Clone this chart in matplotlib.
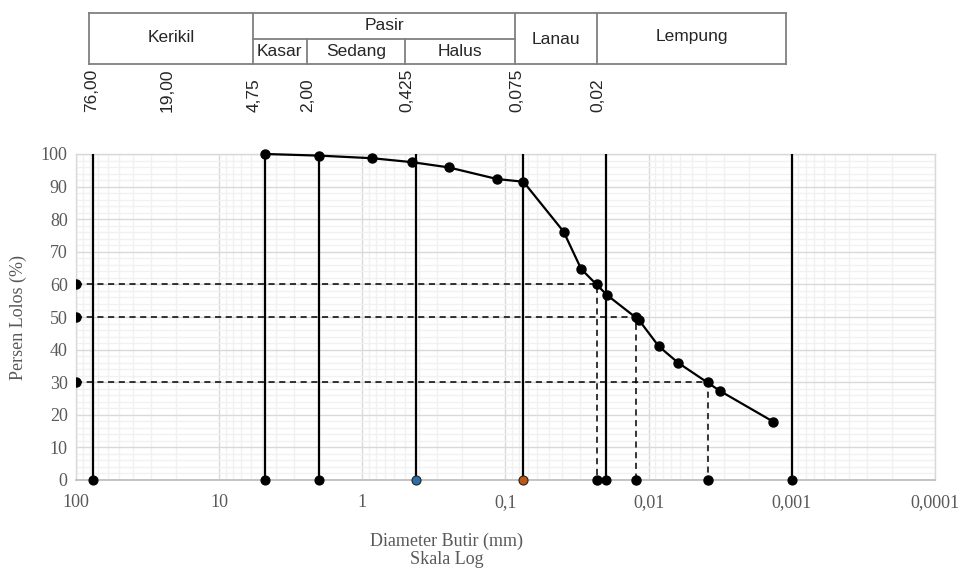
import matplotlib
matplotlib.use("Agg")
import matplotlib.pyplot as plt
from matplotlib.lines import Line2D
from matplotlib.ticker import FixedLocator, NullFormatter, FixedFormatter

# ---------------- data ----------------
grain_size = [4.75, 2.00, 0.85, 0.45, 0.25, 0.114, 0.075, 0.0393, 0.0296,
              0.0195, 0.0117, 0.0085, 0.0062, 0.00317, 0.00135]
percent_passing = [100, 99.5, 98.7, 97.5, 95.9, 92.3, 91.5, 76.2, 64.7,
                   56.7, 49.1, 41.0, 35.9, 27.3, 17.9]

boundary_sizes = [76.0, 4.75, 2.00, 0.425, 0.075, 0.02, 0.001]
boundary_colors = ["black", "black", "black", "#2E6DAA", "#C0560F", "black", "black"]

d_levels = [60, 50, 30]
d_sizes = [0.0231, 0.0122, 0.00383]

xtick_vals = [100, 10, 1, 0.1, 0.01, 0.001, 0.0001]
xtick_labels = ["100", "10", "1", "0,1", "0,01", "0,001", "0,0001"]
ytick_vals = list(range(0, 101, 10))

table_sieve_labels = ["76,00", "19,00", "4,75", "2,00", "0,425", "0,075", "0,02"]

W, H = 964, 572
fig = plt.figure(figsize=(W / 100, H / 100), dpi=100)

def fx(x):
    return x / W

def fy(y):
    return 1 - y / H

ax = fig.add_axes([fx(76), fy(480), fx(935) - fx(76), fy(154) - fy(480)])
ax.set_xscale("log")
ax.set_xlim(100, 0.0001)
ax.set_ylim(0, 100)

# grid
ax.xaxis.set_major_locator(FixedLocator(xtick_vals))
ax.xaxis.set_major_formatter(FixedFormatter(xtick_labels))
minor_x = [m * 10.0 ** e for e in range(-4, 2) for m in range(2, 10)]
ax.xaxis.set_minor_locator(FixedLocator(minor_x))
ax.xaxis.set_minor_formatter(NullFormatter())
ax.yaxis.set_major_locator(FixedLocator(ytick_vals))
ax.yaxis.set_minor_locator(FixedLocator([v for v in range(0, 101, 2) if v % 10]))
ax.grid(True, which="major", color="#d9d9d9", linewidth=1.0, zorder=0)
ax.grid(True, which="minor", color="#f1f1f1", linewidth=1.0, zorder=0)
ax.set_axisbelow(True)
ax.tick_params(which="both", length=0)
ax.tick_params(axis="x", pad=10)
ax.tick_params(axis="y", pad=6)
for s in ax.spines.values():
    s.set_color("#d9d9d9")
    s.set_linewidth(1.0)
ax.spines["bottom"].set_color("#bfbfbf")
ax.spines["bottom"].set_linewidth(1.3)

serif = "Liberation Serif"
for lab in ax.get_xticklabels() + ax.get_yticklabels():
    lab.set_fontfamily(serif)
    lab.set_fontsize(13)
    lab.set_color("#595959")

ms = 6.5

# boundary vertical lines
for d, c in zip(boundary_sizes, boundary_colors):
    ax.plot([d, d], [0, 100], color="black", linewidth=1.6, zorder=3)
    ax.plot([d], [0], marker="o", markersize=ms, color=c,
            markeredgecolor="#222222" if c != "black" else "black",
            markeredgewidth=0.8, zorder=5, clip_on=False)

# D60/D50/D30 dashed lines
for lvl, d in zip(d_levels, d_sizes):
    ax.plot([100, d, d], [lvl, lvl, 0], color="black", linewidth=1.1,
            linestyle=(0, (4, 3)), zorder=4)
    ax.plot([100], [lvl], marker="o", markersize=ms, color="black", zorder=4)
    ax.plot([d, d], [lvl, 0], linestyle="none", marker="o", markersize=ms,
            color="black", zorder=4, clip_on=False)

# gradation curve
ax.plot(grain_size, percent_passing, color="black", linewidth=1.6,
        marker="o", markersize=ms, zorder=6, clip_on=False)

fig.text(fx(447), fy(541), "Diameter Butir (mm)", ha="center", va="center",
         fontfamily=serif, fontsize=13, color="#595959")
fig.text(fx(447), fy(560), "Skala Log", ha="center", va="center",
         fontfamily=serif, fontsize=13, color="#595959")
fig.text(fx(18), fy(317), "Persen Lolos (%)", ha="center", va="center",
         rotation=90, fontfamily=serif, fontsize=13, color="#595959")

# ---------------- classification table ----------------
tc = "#808080"
lw = 1.3
top, mid, bot = 13, 38.5, 64
xl, x475, x200, x0425, x0075, x002, xr = 89, 253, 307, 405, 515, 597, 786

def hline(x0, x1, y):
    fig.add_artist(Line2D([fx(x0), fx(x1)], [fy(y), fy(y)], color=tc, linewidth=lw,
                          transform=fig.transFigure))

def vline(x, y0, y1):
    fig.add_artist(Line2D([fx(x), fx(x)], [fy(y0), fy(y1)], color=tc, linewidth=lw,
                          transform=fig.transFigure))

hline(xl, xr, top)
hline(xl, xr, bot)
hline(x475, x0075, mid)
for x in (xl, x475, x0075, x002, xr):
    vline(x, top, bot)
for x in (x200, x0425):
    vline(x, mid, bot)

sans = "Liberation Sans"
tfs = 12.5
tcol = "#262626"
fig.text(fx((xl + x475) / 2), fy(38), "Kerikil", ha="center", va="center",
         fontfamily=sans, fontsize=tfs, color=tcol)
fig.text(fx((x475 + x0075) / 2), fy(25), "Pasir", ha="center", va="center",
         fontfamily=sans, fontsize=tfs, color=tcol)
fig.text(fx((x475 + x200) / 2) - 0.001, fy(51.5), "Kasar", ha="center", va="center",
         fontfamily=sans, fontsize=tfs, color=tcol)
fig.text(fx((x200 + x0425) / 2), fy(51.5), "Sedang", ha="center", va="center",
         fontfamily=sans, fontsize=tfs, color=tcol)
fig.text(fx((x0425 + x0075) / 2), fy(51.5), "Halus", ha="center", va="center",
         fontfamily=sans, fontsize=tfs, color=tcol)
fig.text(fx((x0075 + x002) / 2), fy(39), "Lanau", ha="center", va="center",
         fontfamily=sans, fontsize=tfs, color=tcol)
fig.text(fx((x002 + xr) / 2), fy(36), "Lempung", ha="center", va="center",
         fontfamily=sans, fontsize=tfs, color=tcol)

label_x = [92, 167, 254, 308, 407, 517, 598]
for lx, t in zip(label_x, table_sieve_labels):
    fig.text(fx(lx), fy(112), t, rotation=90, ha="center", va="bottom",
             fontfamily=sans, fontsize=tfs, color=tcol)

fig.savefig("out.png", dpi=100, facecolor="white")
